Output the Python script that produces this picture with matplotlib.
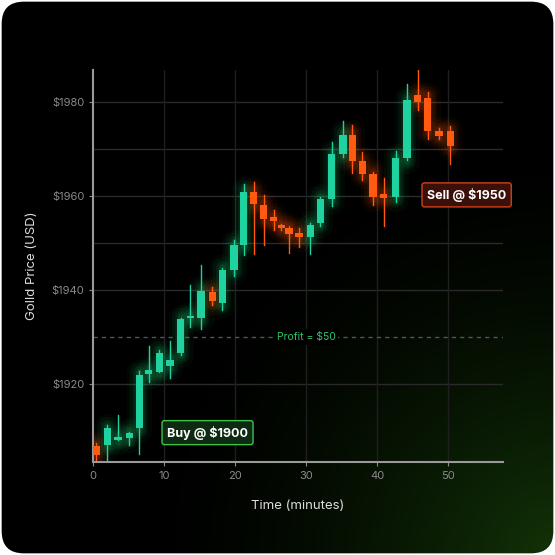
import matplotlib
matplotlib.use("Agg")
import matplotlib.pyplot as plt
import numpy as np
from matplotlib.patches import FancyBboxPatch

plt.rcParams['font.family'] = ['Inter', 'DejaVu Sans']

t = [0.4,2.0,3.5,5.1,6.5,7.8,9.3,10.8,12.3,13.7,15.2,16.8,18.2,19.8,21.2,22.6,24.0,25.4,26.5,27.6,29.0,30.6,32.0,33.6,35.2,36.5,37.9,39.4,40.9,42.6,44.2,45.7,47.1,48.7,50.3]
o = [1906.8,1907.0,1908.1,1908.5,1910.6,1922.0,1922.6,1923.8,1926.6,1934.0,1934.0,1939.6,1937.2,1944.3,1949.6,1960.9,1958.1,1955.5,1953.6,1953.2,1952.1,1951.3,1954.3,1959.4,1968.9,1973.0,1967.4,1964.7,1960.4,1959.8,1968.0,1981.5,1980.9,1973.8,1973.8]
c = [1904.9,1910.6,1908.7,1909.6,1921.9,1922.9,1926.6,1925.0,1933.8,1934.4,1939.8,1937.7,1944.3,1949.6,1960.9,1958.3,1955.1,1954.7,1953.2,1951.9,1951.3,1953.8,1959.4,1968.9,1973.0,1967.4,1964.7,1959.8,1959.6,1968.0,1980.4,1980.0,1973.8,1972.8,1970.6]
hi = [1907.4,1911.2,1913.4,1909.8,1922.8,1928.0,1927.2,1929.0,1934.0,1941.0,1945.3,1940.7,1944.7,1950.6,1962.6,1963.0,1960.2,1957.0,1954.0,1953.5,1953.2,1954.2,1959.8,1971.5,1976.0,1975.0,1969.4,1965.1,1963.8,1969.5,1983.9,1986.8,1982.1,1974.4,1974.9]
lo = [1903.4,1903.2,1908.1,1907.0,1905.1,1920.3,1922.5,1921.3,1926.2,1932.1,1931.7,1936.8,1935.7,1943.0,1947.5,1947.7,1949.6,1952.8,1952.8,1947.9,1949.2,1947.7,1953.6,1957.9,1968.3,1964.9,1963.4,1958.1,1953.6,1958.7,1967.7,1978.3,1972.1,1972.1,1966.8]

fig = plt.figure(figsize=(5.55,5.55), dpi=100)
fig.patch.set_facecolor("white")
bg = fig.add_axes([0,0,1,1]); bg.set_xlim(0,1); bg.set_ylim(0,1); bg.axis("off")
yy, xx = np.mgrid[0:1:300j, 0:1:300j]
d = np.sqrt((1-xx)**2 + (yy)**2)
g = np.clip(1 - d/0.75, 0, 1)**1.6
img = np.zeros((300,300,3))
img[...,0] = 0.07*g
img[...,1] = 0.20*g
img[...,2] = 0.03*g
box = FancyBboxPatch((0.003,0.003),0.994,0.994, boxstyle="round,pad=0,rounding_size=0.04", transform=bg.transAxes, fc="none", ec="none")
bg.add_patch(box)
im = bg.imshow(img, extent=[0,1,0,1], origin="lower", aspect="auto")
im.set_clip_path(box)

ax = fig.add_axes([0.168,0.168,0.738,0.706])
ax.set_facecolor("none")
ax.set_xlim(0,57.7); ax.set_ylim(1903.4,1986.8)
for v in [1920,1940,1950,1960,1970,1980]:
    ax.axhline(v, color="#2a2a2a", lw=1, zorder=0)
for v in [10,20,30,40,50]:
    ax.axvline(v, color="#1f1f1f", lw=1, zorder=0)
ax.axhline(1930, color="#555555", lw=1, ls=(0,(3,3)), zorder=0)
ax.text(30, 1930, "Profit = $50", color="#2fc46a", fontsize=7.5, ha="center", va="center",
        bbox=dict(fc="black", ec="none", pad=2))

for ti, oi, ci, h, l in zip(t,o,c,hi,lo):
    up = ci >= oi
    col = "#1fd3a0" if up else "#ff5a10"
    glow = "#22e07a" if up else "#ff5a10"
    b0, b1 = min(oi,ci), max(oi,ci)
    for w, a in [(18,0.04),(13,0.06),(9,0.09),(5,0.12)]:
        ax.plot([ti,ti],[b0-0.5,b1+0.5], color=glow, lw=w, alpha=a, solid_capstyle="round", zorder=1)
    ax.plot([ti,ti],[l,h], color=col, lw=1, zorder=2)
    ax.bar(ti, max(b1-b0,0.5), bottom=b0, width=1.05, color=col, zorder=3)

ax.text(16.1, 1909.6, "Buy @ $1900", color="white", fontsize=9, fontweight="bold", ha="center", va="center",
        bbox=dict(boxstyle="round,pad=0.4,rounding_size=0.2", fc="#0f2a12", ec="#3cc44a", lw=1))
ax.text(52.6, 1960.2, "Sell @ $1950", color="white", fontsize=9, fontweight="bold", ha="center", va="center",
        bbox=dict(boxstyle="round,pad=0.4,rounding_size=0.2", fc="#3a1008", ec="#d0401a", lw=1))

for s in ["top","right"]:
    ax.spines[s].set_visible(False)
for s in ["left","bottom"]:
    ax.spines[s].set_color("#9a9a9a"); ax.spines[s].set_linewidth(1.5)
ax.set_xticks([0,10,20,30,40,50])
ax.set_yticks([1920,1940,1960,1980])
ax.set_yticklabels(["$1920","$1940","$1960","$1980"])
ax.tick_params(colors="#8a8a8a", labelsize=8, length=3)
ax.set_xlabel("Time (minutes)", color="#dddddd", fontsize=9.5, labelpad=14)
ax.set_ylabel("Golld Price (USD)", color="#dddddd", fontsize=9.5, labelpad=10)
fig.savefig("out.png", dpi=100, facecolor="white")
